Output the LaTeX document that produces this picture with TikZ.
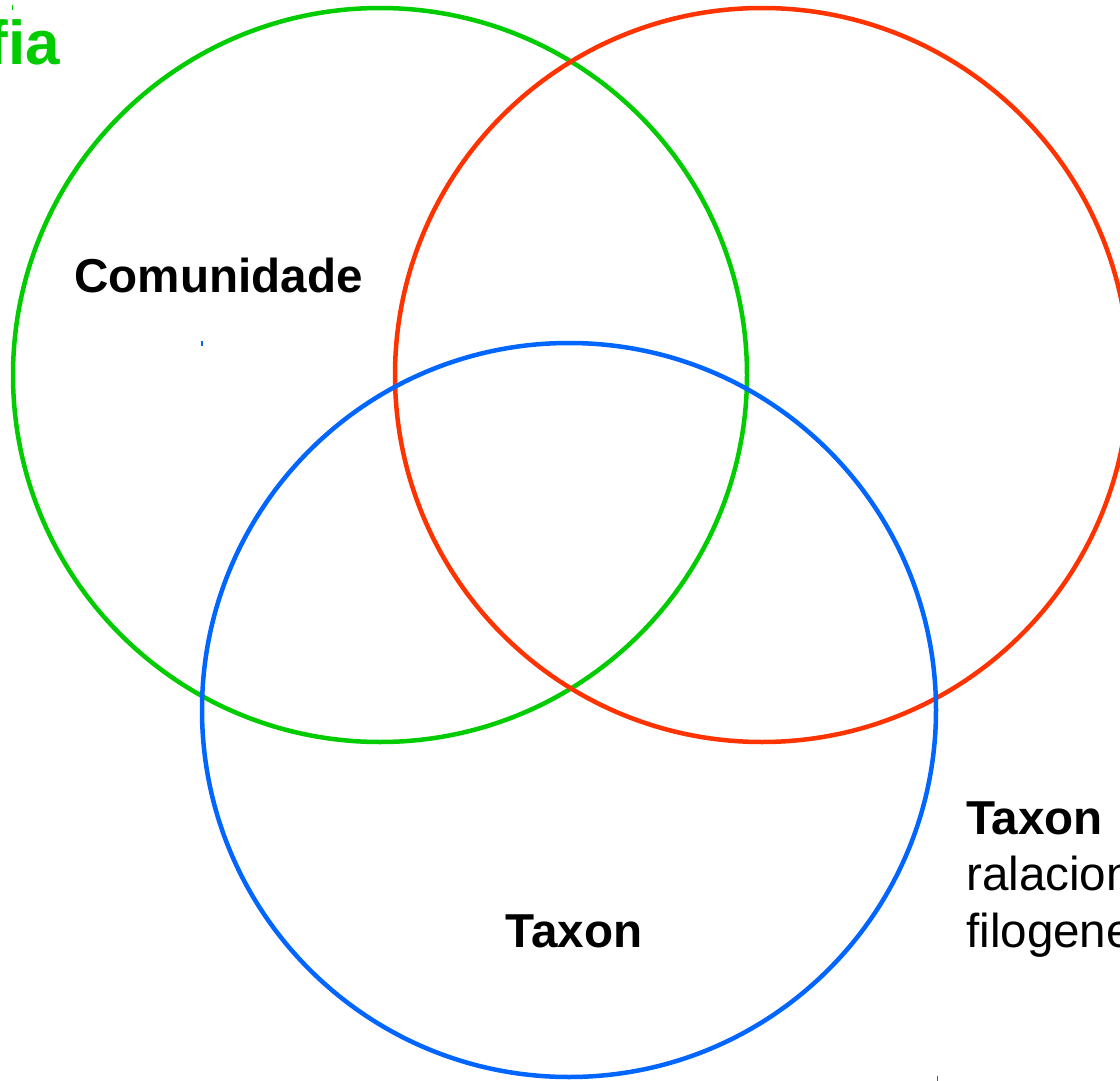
\documentclass[tikz,border=0pt]{standalone}
\usepackage{fontspec}
\setmainfont{Liberation Sans}
\definecolor{vgreen}{RGB}{0,204,0}
\definecolor{vred}{RGB}{255,51,0}
\definecolor{vblue}{RGB}{0,102,255}
\begin{document}
\begin{tikzpicture}[x=1pt,y=-1pt,
  ring/.style={circle, draw, line width=4.5pt, minimum size=734pt, inner sep=0pt},
  lbl/.style={font=\fontsize{47.6}{56}\selectfont\bfseries, inner sep=0pt},
  txt/.style={font=\fontsize{47.6}{56}\selectfont, inner sep=0pt},
  tick/.style={line width=1.2pt}]
\useasboundingbox (0,0) rectangle (1120,1081);
\clip (0,0) rectangle (1120,1081);
\node[ring, draw=vgreen] (green) at (380,375) {};
\node[ring, draw=vred] (red) at (762,375) {};
\node[ring, draw=vblue] (blue) at (569,710) {};
\node[lbl, anchor=base] (comunidade) at (218.5,292) {Comunidade};
\node[lbl, anchor=base] (taxon) at (574,947) {Taxon};
\node[lbl, anchor=base west] (taxon2) at (966,834) {Taxon};
\node[txt, anchor=base west] (ralacion) at (966,890) {ralacion};
\node[txt, anchor=base west] (filogene) at (966,947) {filogene};
\node[font=\fontsize{62}{70}\selectfont\bfseries, text=vgreen, inner sep=0pt, anchor=base east] (fia) at (60,65) {fia};
\draw[tick, vgreen] (12.5,5) -- (12.5,10);
\draw[tick, vblue] (202,341) -- (202,346);
\draw[tick, vblue] (937.5,1076) -- (937.5,1081);
\end{tikzpicture}
\end{document}
